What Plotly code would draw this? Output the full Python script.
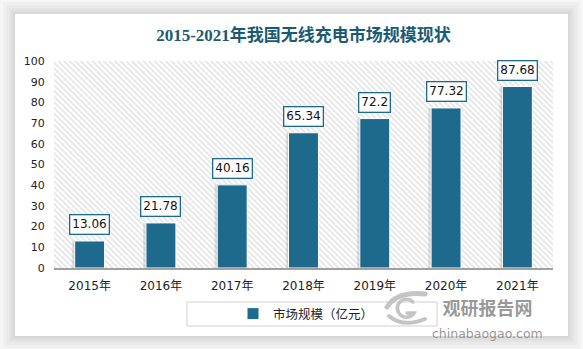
import base64
import plotly.graph_objects as go

# Market size of wireless charging in China, 2015-2021 (100 million yuan)
years = ["2015年", "2016年", "2017年", "2018年", "2019年", "2020年", "2021年"]
market_size = [13.06, 21.78, 40.16, 65.34, 72.2, 77.32, 87.68]
value_labels = ["13.06", "21.78", "40.16", "65.34", "72.2", "77.32", "87.68"]
y_ticks = [0, 10, 20, 30, 40, 50, 60, 70, 80, 90, 100]

W, H = 583, 349
M_L, M_R, M_T, M_B = 54, 30, 61, 81
PW, PH = W - M_L - M_R, H - M_T - M_B

BAR = "#1d6a8c"
TITLE = "#1b5a74"


def px_x(px):
    return (px - M_L) / PW


def px_y(py):
    return 1 - (py - M_T) / PH


def svg_uri(svg):
    return "data:image/svg+xml;base64," + base64.b64encode(svg.encode()).decode()


# diagonal hatch used behind the bars
hatch_svg = f"""<svg xmlns='http://www.w3.org/2000/svg' width='{PW}' height='{PH}' viewBox='0 0 {PW} {PH}' preserveAspectRatio='none'>
<defs><pattern id='h' width='4' height='4' patternUnits='userSpaceOnUse' patternTransform='rotate(45)'>
<rect width='4' height='4' fill='white'/><line x1='0' y1='1' x2='4' y2='1' stroke='#d6d6d6' stroke-width='1.1'/></pattern></defs>
<rect width='{PW}' height='{PH}' fill='url(#h)'/></svg>"""

# swirl emblem next to the site name
logo_svg = """<svg xmlns='http://www.w3.org/2000/svg' width='46' height='40' viewBox='0 0 46 40'>
<g fill='none' stroke='#c4c4c4' stroke-linecap='round'>
<path d='M4 19 Q14 3 42 6' stroke-width='5'/>
<path d='M30 14 A9 9 0 1 0 31 25 L24 25' stroke-width='3.5'/>
<path d='M6 28 Q20 40 42 31' stroke-width='4'/>
</g></svg>"""

fig = go.Figure()

# soft shadow to the left of each bar
fig.add_trace(go.Bar(
    x=years, y=market_size, width=0.42, offset=-0.25,
    marker=dict(color="rgba(0,0,0,0.09)", line=dict(width=0)),
    showlegend=False, hoverinfo="skip",
))
fig.add_trace(go.Bar(
    x=years, y=market_size, width=0.42, offset=-0.23,
    marker=dict(color="rgba(0,0,0,0.07)", line=dict(width=0)),
    showlegend=False, hoverinfo="skip",
))
fig.add_trace(go.Bar(
    x=years, y=market_size, width=0.42, offset=-0.21,
    name="市场规模（亿元）",
    marker=dict(color=BAR, line=dict(color="white", width=1)),
))

for yr, v, lab in zip(years, market_size, value_labels):
    fig.add_annotation(
        x=yr, y=v, text=lab, showarrow=False, yanchor="bottom", yshift=6,
        font=dict(family="DejaVu Sans", size=12, color="#111"),
        bgcolor="white", bordercolor=BAR, borderwidth=1.3, borderpad=2,
    )

shapes = []
# card shadow, built from a few translucent layers
for g in (12, 9, 6, 4, 2):
    shapes.append(dict(
        type="rect", xref="paper", yref="paper", layer="below",
        x0=px_x(15 - g), x1=px_x(568 + g), y0=px_y(336 + g), y1=px_y(14 - g),
        fillcolor="rgba(0,0,0,0.022)", line=dict(width=0),
    ))
# white card
shapes.append(dict(
    type="rect", xref="paper", yref="paper", layer="below",
    x0=px_x(15), x1=px_x(568), y0=px_y(336), y1=px_y(14),
    fillcolor="white", line=dict(width=0),
))
# legend frame
shapes.append(dict(
    type="rect", xref="paper", yref="paper", layer="below",
    x0=px_x(187), x1=px_x(437), y0=px_y(326), y1=px_y(302),
    fillcolor="white", line=dict(color="#d0d0d0", width=1),
))

# site name and address as a single two-line mark
fig.add_annotation(
    text=("<b>观研报告网</b><br>"
          "<span style='font-size:12.5px;font-family:DejaVu Sans'>chinabaogao.com</span>"),
    xref="paper", yref="paper", x=px_x(487), y=px_y(292),
    showarrow=False, xanchor="center", yanchor="top", align="center",
    font=dict(family="Noto Sans CJK SC", size=18, color="rgba(125,125,125,0.8)"),
)

fig.update_layout(
    width=W, height=H,
    margin=dict(l=M_L, r=M_R, t=M_T, b=M_B),
    paper_bgcolor="#f6f6f6",
    plot_bgcolor="rgba(0,0,0,0)",
    barmode="overlay",
    title=dict(
        text="<b>2015-2021年我国无线充电市场规模现状</b>",
        x=0.5, xref="paper", xanchor="center", y=1 - 35 / H, yanchor="middle",
        font=dict(family="Liberation Serif, Noto Sans CJK SC", size=17, color=TITLE),
    ),
    shapes=shapes,
    images=[
        dict(source=svg_uri(hatch_svg), xref="x", yref="y", x=-0.5, y=100, sizex=7, sizey=100,
             xanchor="left", yanchor="top", sizing="stretch", layer="below"),
        dict(source=svg_uri(logo_svg), xref="paper", yref="paper",
             x=px_x(383), y=px_y(288), sizex=46 / PW, sizey=40 / PH,
             xanchor="left", yanchor="top", sizing="stretch", layer="above"),
    ],
    legend=dict(
        orientation="h", x=px_x(233), y=px_y(314), xanchor="left", yanchor="middle",
        bgcolor="rgba(0,0,0,0)", font=dict(family="Noto Sans CJK SC", size=12.5, color="#222"),
    ),
    xaxis=dict(
        range=[-0.5, 6.5], showgrid=False, showline=True, linecolor="#a0a0a0", linewidth=1.5,
        ticks="outside", ticklen=6, tickcolor="rgba(0,0,0,0)",
        tickfont=dict(family="DejaVu Sans, Noto Sans CJK SC", size=12, color="#222"),
    ),
    yaxis=dict(
        range=[0, 100], tickvals=y_ticks, showgrid=False, zeroline=False, showline=False,
        ticks="outside", ticklen=6, tickcolor="rgba(0,0,0,0)",
        tickfont=dict(family="DejaVu Sans", size=11, color="#222"),
    ),
)

fig.write_html("out.html")
